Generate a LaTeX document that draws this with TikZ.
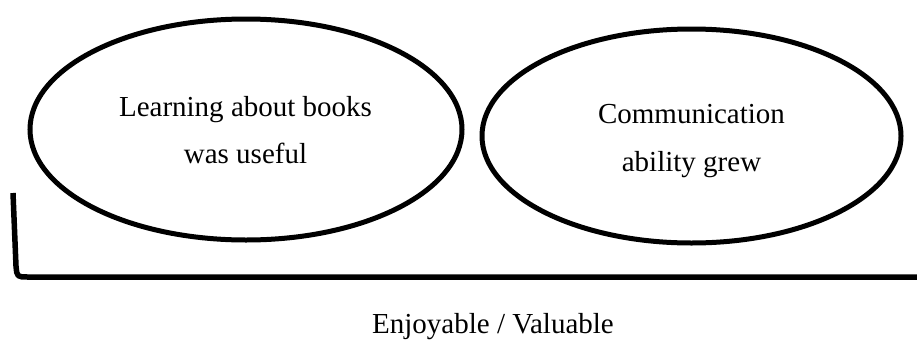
\documentclass[tikz,border=0pt]{standalone}
\usepackage{fontspec}
\setmainfont{Liberation Serif}
\usetikzlibrary{shapes.geometric}
\begin{document}
\begin{tikzpicture}[x=1pt,y=-1pt,
  oval/.style={draw=black,line width=5pt,ellipse,inner sep=0pt},
  lbl/.style={font=\fontsize{29}{34}\selectfont,anchor=base,inner sep=0pt},
  bracketline/.style={draw=black,line width=5.5pt,line cap=butt,line join=round}]
\useasboundingbox (0,0) rectangle (917,343);
\node[oval,minimum width=432pt,minimum height=221pt] (e1) at (246,129.5) {};
\node[oval,minimum width=419pt,minimum height=214pt] (e2) at (691.5,136) {};
\node[lbl] (t1a) at (245.5,116) {Learning about books};
\node[lbl] (t1b) at (245.5,163) {was useful};
\node[lbl] (t2a) at (691.5,123) {Communication};
\node[lbl] (t2b) at (691.5,171) {ability grew};
\coordinate (b0) at (13,193);
\coordinate (b1) at (16,266);
\coordinate (b2) at (28,277);
\coordinate (b3) at (917,277);
\draw[bracketline] (b0) .. controls (14,230) .. (b1) .. controls (17,277) .. (b2) -- (b3);
\node[lbl] (axis) at (493,333) {Enjoyable / Valuable};
\end{tikzpicture}
\end{document}
